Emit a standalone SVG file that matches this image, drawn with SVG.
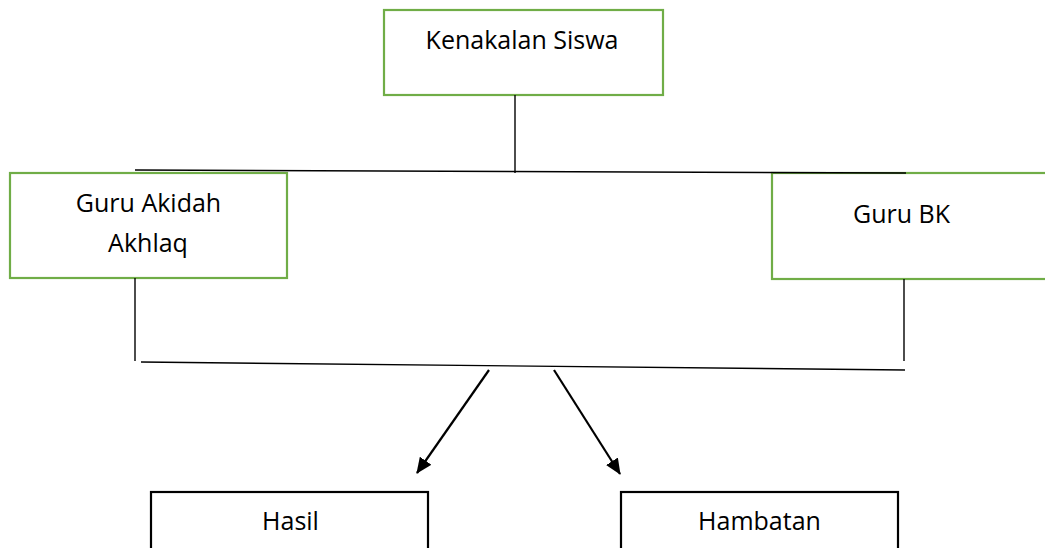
<svg xmlns="http://www.w3.org/2000/svg" width="1045" height="548" viewBox="0 0 1045 548">
  <style>
    .g { fill: #ffffff; stroke: #70AD47; stroke-width: 2.2; }
    .b { fill: #ffffff; stroke: #000000; stroke-width: 2.2; }
    .t { font-family: "Open Sans", "Liberation Sans", sans-serif; font-size: 25px; fill: #000000; text-anchor: middle; }
    .c { stroke: #000000; stroke-width: 1.4; fill: none; }
    .a { stroke: #000000; stroke-width: 2.2; fill: none; }
  </style>
  <defs>
    <marker id="arrow" viewBox="0 0 16 14" refX="15" refY="7" markerWidth="16" markerHeight="14" markerUnits="userSpaceOnUse" orient="auto">
      <path d="M0,0 L16,7 L0,14 z" fill="#000000"/>
    </marker>
  </defs>
  <rect width="1045" height="548" fill="#ffffff"/>
  <g id="node-kenakalan">
    <rect class="g" x="384" y="10" width="279" height="85"/>
    <text class="t" x="522" y="49">Kenakalan Siswa</text>
  </g>
  <g id="node-akidah">
    <rect class="g" x="10" y="173" width="277" height="105"/>
    <text class="t" x="148.5" y="212">Guru Akidah</text>
    <text class="t" x="148" y="252">Akhlaq</text>
  </g>
  <g id="node-bk">
    <rect class="g" x="772" y="173" width="285" height="106"/>
    <text class="t" x="901.5" y="223">Guru BK</text>
  </g>
  <g id="node-hasil">
    <rect class="b" x="151" y="492" width="277" height="70"/>
    <text class="t" x="290.5" y="530">Hasil</text>
  </g>
  <g id="node-hambatan">
    <rect class="b" x="621" y="492" width="277" height="70"/>
    <text class="t" x="759.5" y="530">Hambatan</text>
  </g>
  <g id="connectors">
    <line class="c" x1="515" y1="95" x2="515" y2="173"/>
    <line class="c" x1="135" y1="170" x2="906" y2="173"/>
    <line class="c" x1="135" y1="278" x2="135" y2="361"/>
    <line class="c" x1="904" y1="279" x2="904" y2="361"/>
    <line class="c" x1="141" y1="362" x2="905" y2="370"/>
    <line class="a" x1="489" y1="370" x2="417" y2="473" marker-end="url(#arrow)"/>
    <line class="a" x1="554" y1="370" x2="620" y2="474" marker-end="url(#arrow)"/>
  </g>
</svg>
